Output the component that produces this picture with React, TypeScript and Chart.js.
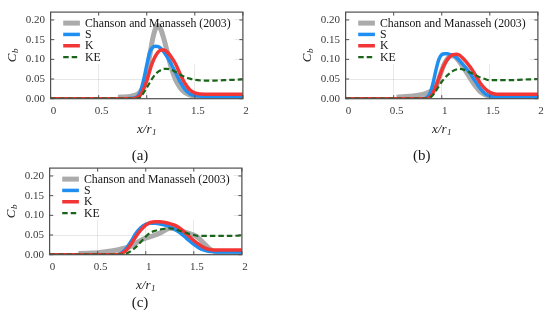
import React, { useEffect, useRef } from "react";
import { Chart, registerables } from "chart.js";

Chart.register(...registerables);

// ---------- data ----------
const SERIES_LABELS = ["Chanson and Manasseh (2003)", "S", "K", "KE"];
const X_TICKS = [0, 0.5, 1, 1.5, 2];
const Y_TICKS = [0, 0.05, 0.1, 0.15, 0.2];
const CAPTIONS = ["(a)", "(b)", "(c)"];

// panel (a)
const XA = [0, 0.5, 0.7, 0.8, 0.85, 0.9, 0.93, 0.96, 1.0, 1.03, 1.06, 1.09, 1.12, 1.15, 1.18, 1.21, 1.25, 1.3, 1.35, 1.4, 1.45, 1.5, 1.6, 1.7, 1.8, 1.9, 2.0];
const A_CM = [null, null, 0.004, 0.005, 0.007, 0.011, 0.017, 0.03, 0.062, 0.108, 0.15, 0.177, 0.186, 0.174, 0.15, 0.122, 0.083, 0.048, 0.027, 0.015, 0.009, 0.006, 0.005, 0.004, 0.004, 0.004, 0.004];
const A_S = [0, 0, 0, 0, 0.001, 0.005, 0.015, 0.04, 0.085, 0.117, 0.13, 0.133, 0.132, 0.127, 0.118, 0.107, 0.09, 0.066, 0.042, 0.023, 0.012, 0.008, 0.006, 0.006, 0.006, 0.006, 0.006];
const A_K = [0, 0, 0, 0, 0, 0.003, 0.008, 0.02, 0.045, 0.07, 0.092, 0.108, 0.119, 0.124, 0.124, 0.119, 0.108, 0.088, 0.061, 0.038, 0.022, 0.015, 0.011, 0.011, 0.011, 0.011, 0.011];
const A_KE = [0, 0, 0, 0, 0, 0, 0.003, 0.012, 0.028, 0.04, 0.052, 0.062, 0.069, 0.073, 0.076, 0.076, 0.074, 0.068, 0.061, 0.055, 0.051, 0.048, 0.046, 0.046, 0.047, 0.048, 0.049];

// panel (b)
const XB = [0, 0.5, 0.53, 0.6, 0.7, 0.8, 0.85, 0.88, 0.91, 0.94, 0.97, 1.0, 1.03, 1.06, 1.09, 1.12, 1.15, 1.18, 1.21, 1.25, 1.3, 1.35, 1.4, 1.45, 1.5, 1.55, 1.6, 1.7, 1.8, 1.9, 2.0];
const B_CM = [null, null, 0.004, 0.005, 0.007, 0.011, 0.015, 0.018, 0.022, 0.03, 0.05, 0.072, 0.09, 0.102, 0.108, 0.109, 0.104, 0.095, 0.085, 0.07, 0.05, 0.032, 0.018, 0.01, 0.006, 0.005, 0.004, 0.004, 0.004, 0.004, 0.004];
const B_S = [0, 0, 0, 0, 0, 0, 0.004, 0.015, 0.04, 0.073, 0.1, 0.112, 0.114, 0.114, 0.112, 0.11, 0.105, 0.098, 0.09, 0.079, 0.063, 0.044, 0.026, 0.013, 0.007, 0.005, 0.005, 0.005, 0.005, 0.005, 0.005];
const B_K = [0, 0, 0, 0, 0, 0, 0, 0.005, 0.015, 0.032, 0.052, 0.072, 0.088, 0.1, 0.108, 0.112, 0.113, 0.111, 0.105, 0.095, 0.079, 0.06, 0.04, 0.025, 0.016, 0.012, 0.011, 0.011, 0.011, 0.011, 0.011];
const B_KE = [0, 0, 0, 0, 0, 0, 0, 0.003, 0.01, 0.02, 0.032, 0.043, 0.052, 0.06, 0.066, 0.071, 0.074, 0.076, 0.075, 0.072, 0.066, 0.06, 0.054, 0.05, 0.047, 0.047, 0.047, 0.047, 0.048, 0.049, 0.05];

// panel (c)
const XC = [0, 0.3, 0.4, 0.5, 0.6, 0.7, 0.75, 0.8, 0.85, 0.9, 0.95, 1.0, 1.05, 1.1, 1.15, 1.2, 1.25, 1.3, 1.35, 1.4, 1.45, 1.5, 1.55, 1.6, 1.65, 1.7, 1.75, 1.8, 1.9, 2.0];
const C_CM = [null, 0.003, 0.004, 0.005, 0.008, 0.012, 0.015, 0.018, 0.022, 0.03, 0.037, 0.042, 0.046, 0.05, 0.055, 0.062, 0.067, 0.066, 0.062, 0.058, 0.054, 0.05, 0.042, 0.03, 0.018, 0.009, 0.005, 0.004, 0.003, 0.003];
const C_S = [0, 0, 0, 0, 0, 0, 0.005, 0.017, 0.035, 0.055, 0.069, 0.077, 0.08, 0.08, 0.078, 0.075, 0.071, 0.065, 0.057, 0.047, 0.036, 0.026, 0.018, 0.012, 0.009, 0.008, 0.007, 0.007, 0.007, 0.007];
const C_K = [0, 0, 0, 0, 0, 0, 0.003, 0.012, 0.028, 0.047, 0.063, 0.075, 0.082, 0.084, 0.084, 0.082, 0.079, 0.075, 0.068, 0.058, 0.047, 0.036, 0.027, 0.019, 0.014, 0.012, 0.012, 0.012, 0.012, 0.012];
const C_KE = [0, 0, 0, 0, 0, 0, 0, 0.003, 0.01, 0.02, 0.033, 0.046, 0.056, 0.061, 0.064, 0.066, 0.067, 0.065, 0.061, 0.057, 0.053, 0.05, 0.048, 0.048, 0.048, 0.048, 0.048, 0.048, 0.048, 0.049];

// ---------- styles ----------
const SERIF = '"Liberation Serif", "Times New Roman", serif';
const STYLES = [
  { color: "#ababab", width: 5, dash: [] as number[], order: 4 },
  { color: "#1f8ef1", width: 3.5, dash: [] as number[], order: 3 },
  { color: "#f23636", width: 3.5, dash: [] as number[], order: 2 },
  { color: "#1b651b", width: 2.2, dash: [5.5, 3], order: 1 },
];
const FRAME = "#505050";
const GRID = "rgba(0,0,0,0.09)";
const TICK_COLOR = "#3a3a3a";
const LEGEND_FONT = `11.8px ${SERIF}`;
const Y_AXIS_W = 50.6;
const CANVAS_W = 255;
const CANVAS_H = 145;
const AREA_TOP = 6.7;
const X_AXIS_H = 46.3;

const PANELS = [
  { xs: XA, ys: [A_CM, A_S, A_K, A_KE], left: 0, top: 0, cap: [140, 155] },
  { xs: XB, ys: [B_CM, B_S, B_K, B_KE], left: 295.4, top: 0, cap: [421.7, 155] },
  { xs: XC, ys: [C_CM, C_S, C_K, C_KE], left: -1.2, top: 155.6, cap: [140, 301.7] },
];

const decorPlugin = {
  id: "decor",
  beforeDatasetsDraw(chart: any) {
    const { ctx, chartArea: a } = chart;
    ctx.save();
    ctx.font = LEGEND_FONT;
    const tw = Math.max(...chart.data.datasets.map((d: any) => ctx.measureText(d.label).width));
    ctx.fillStyle = "rgba(255,255,255,0.92)";
    ctx.fillRect(a.left + 5, a.top + 3, 34.3 + tw - 1, 49);
    ctx.restore();
  },
  afterDatasetsDraw(chart: any) {
    const { ctx, chartArea: a } = chart;
    ctx.save();
    // legend
    ctx.font = LEGEND_FONT;
    ctx.textBaseline = "middle";
    ctx.textAlign = "left";
    chart.data.datasets.forEach((d: any, i: number) => {
      const y = a.top + 11 + i * 11.33;
      ctx.beginPath();
      ctx.setLineDash(d.borderDash || []);
      ctx.lineWidth = d.borderWidth;
      ctx.strokeStyle = d.borderColor;
      ctx.lineCap = "butt";
      ctx.moveTo(a.left + 12.6, y);
      ctx.lineTo(a.left + 29.3, y);
      ctx.stroke();
      ctx.setLineDash([]);
      ctx.fillStyle = "#151515";
      ctx.fillText(d.label, a.left + 34.3, y + 0.5);
    });
    // frame & inward ticks
    const xs = chart.scales.x;
    const ys = chart.scales.y;
    const TL = 3.5;
    ctx.strokeStyle = FRAME;
    ctx.lineWidth = 1;
    ctx.beginPath();
    X_TICKS.forEach((v) => {
      const px = xs.getPixelForValue(v);
      ctx.moveTo(px, a.bottom);
      ctx.lineTo(px, a.bottom - TL);
      ctx.moveTo(px, a.top);
      ctx.lineTo(px, a.top + TL);
    });
    Y_TICKS.forEach((v) => {
      const py = ys.getPixelForValue(v);
      ctx.moveTo(a.left, py);
      ctx.lineTo(a.left + TL, py);
      ctx.moveTo(a.right, py);
      ctx.lineTo(a.right - TL, py);
    });
    ctx.stroke();
    ctx.lineWidth = 1.2;
    ctx.strokeRect(a.left, a.top, a.right - a.left, a.bottom - a.top);
    ctx.restore();
  },
  afterDraw(chart: any) {
    const { ctx, chartArea: a } = chart;
    ctx.save();
    ctx.fillStyle = "#222";
    ctx.textBaseline = "middle";
    ctx.textAlign = "left";
    // x title: x/r_1
    const big = `italic 13px ${SERIF}`;
    const small = `italic 9px ${SERIF}`;
    ctx.font = big;
    const w1 = ctx.measureText("x/r").width;
    ctx.font = small;
    const w2 = ctx.measureText("1").width;
    const cx = (a.left + a.right) / 2;
    const ty = a.bottom + 30.6;
    let sx = cx - (w1 + w2 + 0.5) / 2;
    ctx.font = big;
    ctx.fillText("x/r", sx, ty);
    ctx.font = small;
    ctx.fillText("1", sx + w1 + 0.5, ty + 3);
    // y title: C_b
    ctx.font = big;
    const c1 = ctx.measureText("C").width;
    ctx.font = small;
    const c2 = ctx.measureText("b").width;
    ctx.translate(a.left - 37.8, (a.top + a.bottom) / 2);
    ctx.rotate(-Math.PI / 2);
    sx = -(c1 + c2 + 0.5) / 2;
    ctx.font = big;
    ctx.fillText("C", sx, 0);
    ctx.font = small;
    ctx.fillText("b", sx + c1 + 0.5, 3);
    ctx.restore();
  },
};

function Panel({ xs, ys, left, top }: { xs: number[]; ys: (number | null)[][]; left: number; top: number }) {
  const ref = useRef<HTMLCanvasElement>(null);
  useEffect(() => {
    const datasets = ys.map((vals, i) => ({
      label: SERIES_LABELS[i],
      data: xs.map((x, j) => ({ x, y: vals[j] })),
      borderColor: STYLES[i].color,
      backgroundColor: STYLES[i].color,
      borderWidth: STYLES[i].width,
      borderDash: STYLES[i].dash,
      order: STYLES[i].order,
      pointRadius: 0,
      fill: false,
      clip: 0,
      cubicInterpolationMode: "monotone" as const,
      spanGaps: false,
    }));
    const tickFont = { family: SERIF, size: 11 };
    const chart = new Chart(ref.current as HTMLCanvasElement, {
      type: "line",
      data: { datasets },
      options: {
        responsive: false,
        animation: false,
        devicePixelRatio: 1,
        events: [],
        layout: { padding: { left: 0, top: AREA_TOP, right: CANVAS_W - Y_AXIS_W - 192.3, bottom: 0 } },
        plugins: { legend: { display: false }, tooltip: { enabled: false } },
        scales: {
          x: {
            type: "linear",
            min: 0,
            max: 2,
            afterBuildTicks: (s: any) => {
              s.ticks = X_TICKS.map((v) => ({ value: v }));
            },
            afterFit: (s: any) => {
              s.height = X_AXIS_H;
            },
            ticks: {
              font: tickFont,
              color: TICK_COLOR,
              padding: 6,
              labelOffset: 3,
              maxRotation: 0,
              autoSkip: false,
              callback: (v: any) => String(v),
            },
            grid: { color: GRID, lineWidth: 1, drawTicks: false },
            border: { display: false },
          },
          y: {
            type: "linear",
            min: 0,
            max: 0.22,
            afterBuildTicks: (s: any) => {
              s.ticks = Y_TICKS.map((v) => ({ value: v }));
            },
            afterFit: (s: any) => {
              s.width = Y_AXIS_W;
            },
            ticks: {
              font: tickFont,
              color: TICK_COLOR,
              padding: 5.5,
              autoSkip: false,
              callback: (v: any) => Number(v).toFixed(2),
            },
            grid: { color: GRID, lineWidth: 1, drawTicks: false },
            border: { display: false },
          },
        },
      },
      plugins: [decorPlugin],
    } as any);
    return () => chart.destroy();
  }, []);
  return (
    <canvas
      ref={ref}
      width={CANVAS_W}
      height={CANVAS_H}
      style={{ position: "absolute", left, top, width: CANVAS_W, height: CANVAS_H }}
    />
  );
}

export default function App() {
  return (
    <div
      style={{
        position: "absolute",
        left: 0,
        top: 0,
        width: 550,
        height: 321,
        background: "#fff",
        overflow: "hidden",
      }}
    >
      {PANELS.map((p, i) => (
        <Panel key={i} xs={p.xs} ys={p.ys} left={p.left} top={p.top} />
      ))}
      {PANELS.map((p, i) => (
        <div
          key={"c" + i}
          style={{
            position: "absolute",
            left: p.cap[0],
            top: p.cap[1],
            transform: "translate(-50%, -50%)",
            fontFamily: SERIF,
            fontSize: 15,
            color: "#1a1a1a",
            lineHeight: 1,
            whiteSpace: "nowrap",
          }}
        >
          {CAPTIONS[i]}
        </div>
      ))}
    </div>
  );
}
